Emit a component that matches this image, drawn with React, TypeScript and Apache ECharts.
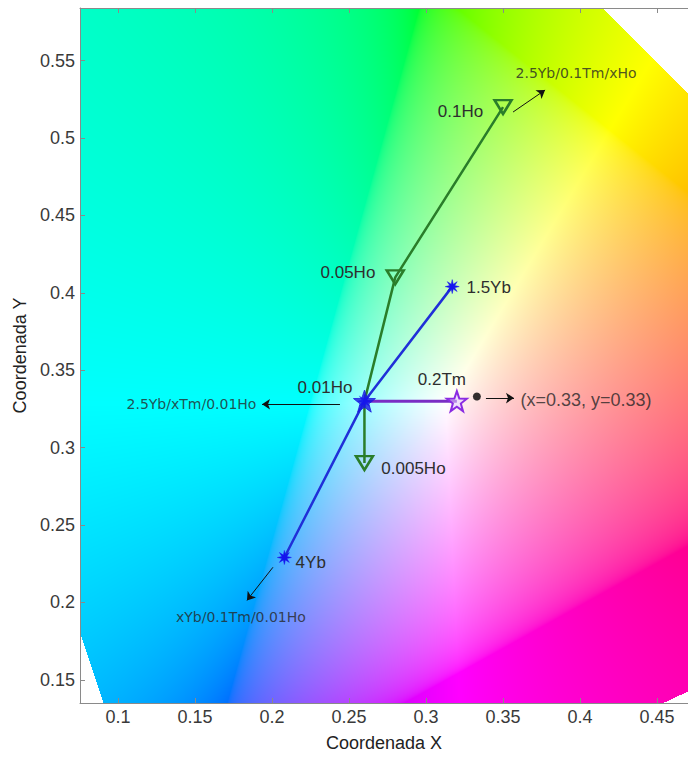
import { useEffect, useRef } from 'react';
import * as echarts from 'echarts';

// Axis extents (chromaticity x / y)
const xRange = [0.0753, 0.4701];
const yRange = [0.135, 0.584];
const xTicks = [0.1, 0.15, 0.2, 0.25, 0.3, 0.35, 0.4, 0.45];
const yTicks = [0.15, 0.2, 0.25, 0.3, 0.35, 0.4, 0.45, 0.5, 0.55];

// CIE 1931 spectral locus (380 nm -> 700 nm), closed by the purple line
const spectralLocus: [number, number][] = [
  [0.1741, 0.005], [0.1714, 0.0051], [0.1644, 0.0109], [0.1566, 0.0177],
  [0.144, 0.0297], [0.1355, 0.0399], [0.1241, 0.0578], [0.1096, 0.0868],
  [0.0913, 0.1327], [0.0687, 0.2007], [0.0454, 0.295], [0.0235, 0.4127],
  [0.0082, 0.5384], [0.0039, 0.6548], [0.0139, 0.7502], [0.0743, 0.8338],
  [0.1547, 0.8059], [0.2296, 0.7543], [0.3016, 0.6923], [0.3731, 0.6245],
  [0.4441, 0.5547], [0.5125, 0.4866], [0.627, 0.3725], [0.6915, 0.3083],
  [0.7347, 0.2653],
];

// Holmium series
const hoPoints: [number, number][] = [[0.35, 0.52], [0.28, 0.41], [0.26, 0.33], [0.26, 0.29]];
const hoLabels = ['0.1Ho', '0.05Ho', '0.01Ho', '0.005Ho'];
// Ytterbium series
const ybPoints: [number, number][] = [[0.317, 0.404], [0.26, 0.33], [0.208, 0.229]];
const ybLabels = ['1.5Yb', '2.5Yb', '4Yb'];
// Thulium series
const tmPoints: [number, number][] = [[0.26, 0.33], [0.32, 0.33]];
const tmLabels = ['', '0.2Tm'];
// Common composition point and equal-energy white
const basePoint: [number, number] = [0.26, 0.33];
const whitePoint: [number, number] = [0.333, 0.333];

// Trend arrows (start, end)
const arrowSegments: [number, number][][] = [
  [[0.3565, 0.5168], [0.3773, 0.531]],
  [[0.2441, 0.328], [0.1935, 0.328]],
  [[0.2006, 0.2227], [0.1837, 0.2013]],
  [[0.3389, 0.332], [0.3571, 0.332]],
];
const noteTexts = ['2.5Yb/0.1Tm/xHo', '2.5Yb/xTm/0.01Ho', 'xYb/0.1Tm/0.01Ho', '(x=0.33, y=0.33)'];
const notePoints: [number, number][] = [[0.3578, 0.542], [0.1902, 0.3282], [0.1798, 0.1906], [0.361, 0.3307]];

const GREEN = '#2a7d2a';
const BLUE_LINE = '#2030d8';
const BLUE_MARK = '#1414ee';
const PURPLE = '#7a2dc4';
const TEXT = '#2e2e2e';

function insideLocus(x: number, y: number): boolean {
  let inside = false;
  const n = spectralLocus.length;
  for (let i = 0, j = n - 1; i < n; j = i++) {
    const [xi, yi] = spectralLocus[i];
    const [xj, yj] = spectralLocus[j];
    if ((yi > y) !== (yj > y) && x < ((xj - xi) * (y - yi)) / (yj - yi) + xi) inside = !inside;
  }
  return inside;
}

function gammaEncode(c: number): number {
  return c <= 0.0031308 ? 12.92 * c : 1.055 * Math.pow(c, 1 / 2.4) - 0.055;
}

// Chromaticity colour field: out-of-gamut colours are desaturated towards white,
// then scaled so the brightest channel is 1
function buildChromaticityImage(w: number, h: number): string {
  const canvas = document.createElement('canvas');
  canvas.width = w;
  canvas.height = h;
  const ctx = canvas.getContext('2d')!;
  const img = ctx.createImageData(w, h);
  const d = img.data;
  for (let j = 0; j < h; j++) {
    const y = yRange[1] - ((j + 0.5) / h) * (yRange[1] - yRange[0]);
    for (let i = 0; i < w; i++) {
      const x = xRange[0] + ((i + 0.5) / w) * (xRange[1] - xRange[0]);
      const k = (j * w + i) * 4;
      d[k + 3] = 255;
      if (!insideLocus(x, y)) {
        d[k] = d[k + 1] = d[k + 2] = 255;
        continue;
      }
      const X = x / y;
      const Z = (1 - x - y) / y;
      let r = 3.2406 * X - 1.5372 - 0.4986 * Z;
      let g = -0.9689 * X + 1.8758 + 0.0415 * Z;
      let b = 0.0557 * X - 0.204 + 1.057 * Z;
      const mn = Math.min(r, g, b);
      if (mn < 0) {
        r -= mn;
        g -= mn;
        b -= mn;
      }
      const m = Math.max(r, g, b) || 1;
      d[k] = Math.round(255 * gammaEncode(r / m));
      d[k + 1] = Math.round(255 * gammaEncode(g / m));
      d[k + 2] = Math.round(255 * gammaEncode(b / m));
    }
  }
  ctx.putImageData(img, 0, 0);
  return canvas.toDataURL('image/png');
}

function starPath(points: number, inner: number): string {
  const pts: string[] = [];
  for (let k = 0; k < points * 2; k++) {
    const r = k % 2 === 0 ? 1 : inner;
    const a = -Math.PI / 2 + (k * Math.PI) / points;
    pts.push(`${(r * Math.cos(a)).toFixed(3)},${(r * Math.sin(a)).toFixed(3)}`);
  }
  return 'path://M' + pts.join('L') + 'Z';
}

const PENTAGRAM = starPath(5, 0.4);
const ASTERISK = starPath(8, 0.38);

const labelFont = { fontFamily: 'Liberation Sans, Arial, sans-serif', fontSize: 17, color: TEXT };

const hoPlacement: any[] = [
  { position: 'left', distance: 10, offset: [0, 4] },
  { position: 'left', distance: 10, offset: [0, -5] },
  { position: 'left', distance: 12, offset: [0, -14] },
  { position: 'right', distance: 7, offset: [0, 5] },
];
const ybPlacement: any[] = [
  { position: 'right', distance: 7, offset: [0, 1] },
  { show: false },
  { position: 'right', distance: 4, offset: [0, 5] },
];
const tmPlacement: any[] = [
  { show: false },
  { position: 'top', distance: 2, offset: [-15, 0] },
];
const notePlacement: any[] = [
  { position: 'right', distance: 0 },
  { position: 'left', distance: 0 },
  { position: 'inside' },
  { position: 'right', distance: 0, fontFamily: 'Liberation Sans, Arial, sans-serif', fontSize: 18 },
];

export default function App() {
  const ref = useRef<HTMLDivElement>(null);

  useEffect(() => {
    if (!ref.current) return;
    const chart = echarts.init(ref.current, undefined, { renderer: 'svg' });
    const gridLeft = 80;
    const gridTop = 8;
    const gridW = 608;
    const gridH = 695;
    const bgUrl = buildChromaticityImage(gridW, gridH);

    const tickFmt = (v: number) => String(Number(v.toFixed(2)));
    const axisFont = { fontFamily: 'Liberation Sans, Arial, sans-serif', fontSize: 18, color: '#3a3a3a' };
    const nameFont = { fontFamily: 'Liberation Sans, Arial, sans-serif', fontSize: 18, color: '#222' };
    const frame = { show: true, onZero: false, lineStyle: { color: '#8a8a8a', width: 1 } };

    chart.setOption({
      animation: false,
      grid: { left: gridLeft, top: gridTop, width: gridW, height: gridH, show: false },
      xAxis: [
        {
          type: 'value',
          min: xRange[0],
          max: xRange[1],
          z: 5,
          name: 'Coordenada X',
          nameLocation: 'middle',
          nameGap: 31,
          nameTextStyle: nameFont,
          axisLine: frame,
          axisTick: { show: true, inside: true, length: 5, customValues: xTicks, lineStyle: { color: '#8a8a8a' } },
          axisLabel: { show: true, customValues: xTicks, formatter: tickFmt, margin: 5, ...axisFont },
          splitLine: { show: false },
        },
        {
          type: 'value',
          position: 'top',
          min: xRange[0],
          max: xRange[1],
          z: 5,
          axisLine: frame,
          axisTick: { show: true, inside: true, length: 5, customValues: xTicks, lineStyle: { color: '#8a8a8a' } },
          axisLabel: { show: false },
          splitLine: { show: false },
        },
      ],
      yAxis: {
        type: 'value',
        min: yRange[0],
        max: yRange[1],
        z: 5,
        name: 'Coordenada Y',
        nameLocation: 'middle',
        nameGap: 48,
        nameTextStyle: nameFont,
        axisLine: frame,
        axisTick: { show: true, inside: true, length: 5, customValues: yTicks, lineStyle: { color: '#8a8a8a' } },
        axisLabel: { show: true, customValues: yTicks, formatter: tickFmt, margin: 5, ...axisFont },
        splitLine: { show: false },
      },
      series: [
        {
          type: 'custom',
          silent: true,
          z: 1,
          data: [[xRange[0], yRange[1], xRange[1], yRange[0]]],
          renderItem: (_params: any, api: any) => {
            const p0 = api.coord([api.value(0), api.value(1)]);
            const p1 = api.coord([api.value(2), api.value(3)]);
            return {
              type: 'image',
              style: { image: bgUrl, x: p0[0], y: p0[1], width: p1[0] - p0[0], height: p1[1] - p0[1] },
            };
          },
        },
        {
          type: 'line',
          name: 'Ho',
          z: 3,
          data: hoPoints.map((p, i) => ({
            value: p,
            name: hoLabels[i],
            symbolSize: i === 2 ? 0 : [17, 14],
            label: hoPlacement[i],
          })),
          symbol: 'triangle',
          symbolRotate: 180,
          itemStyle: { color: 'rgba(0,0,0,0)', borderColor: GREEN, borderWidth: 2.5 },
          lineStyle: { color: GREEN, width: 2.5 },
          label: { show: true, formatter: '{b}', ...labelFont },
        },
        {
          type: 'line',
          name: 'Tm',
          z: 4,
          data: tmPoints.map((p, i) => ({
            value: p,
            name: tmLabels[i],
            symbolSize: i === 0 ? 0 : 20,
            label: tmPlacement[i],
          })),
          symbol: PENTAGRAM,
          itemStyle: { color: 'rgba(225,205,255,0.55)', borderColor: '#8a2be2', borderWidth: 2 },
          lineStyle: { color: PURPLE, width: 3 },
          label: { show: true, formatter: '{b}', ...labelFont },
        },
        {
          type: 'line',
          name: 'Yb',
          z: 5,
          data: ybPoints.map((p, i) => ({
            value: p,
            name: ybLabels[i],
            symbolSize: i === 1 ? 0 : 14,
            label: ybPlacement[i],
          })),
          symbol: ASTERISK,
          itemStyle: { color: BLUE_MARK, borderColor: BLUE_MARK, borderWidth: 0.5 },
          lineStyle: { color: BLUE_LINE, width: 2.5 },
          label: { show: true, formatter: '{b}', ...labelFont },
        },
        {
          type: 'scatter',
          z: 6,
          silent: true,
          data: [basePoint],
          symbol: PENTAGRAM,
          symbolSize: 22,
          itemStyle: { color: '#1a1ae0', borderColor: '#1a1ae0', borderWidth: 1 },
        },
        {
          type: 'scatter',
          z: 7,
          silent: true,
          data: [basePoint],
          symbol: ASTERISK,
          symbolSize: 16,
          itemStyle: { color: BLUE_MARK },
        },
        {
          type: 'scatter',
          z: 6,
          silent: true,
          data: [whitePoint],
          symbol: 'circle',
          symbolSize: 8,
          itemStyle: { color: '#000' },
        },
        {
          type: 'lines',
          coordinateSystem: 'cartesian2d',
          z: 6,
          silent: true,
          data: arrowSegments.map((c) => ({ coords: c })),
          symbol: ['none', 'arrow'],
          symbolSize: 8,
          lineStyle: { color: '#111', width: 1, opacity: 1, curveness: 0 },
        },
        {
          type: 'scatter',
          z: 6,
          silent: true,
          data: notePoints.map((p, i) => ({ value: p, name: noteTexts[i], label: notePlacement[i] })),
          symbolSize: 1,
          itemStyle: { color: 'rgba(0,0,0,0)' },
          label: {
            show: true,
            formatter: '{b}',
            fontFamily: 'DejaVu Sans, sans-serif',
            fontSize: 14,
            color: '#262626',
          },
        },
      ],
    });

    return () => chart.dispose();
  }, []);

  return (
    <div
      ref={ref}
      style={{ position: 'absolute', left: 0, top: 0, width: 688, height: 758, background: '#fff' }}
    />
  );
}
